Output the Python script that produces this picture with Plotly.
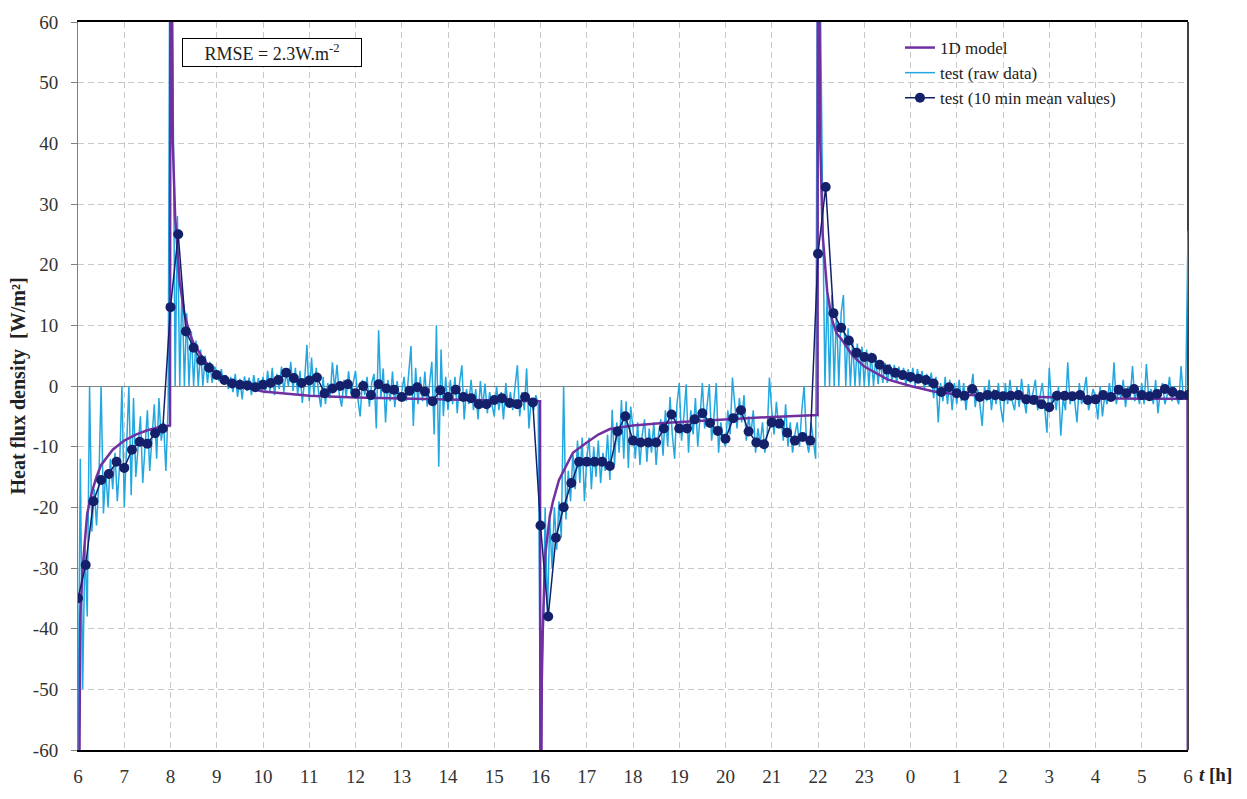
import plotly.graph_objects as go

# ---------------- data ----------------
# hours counted from 6 h on day 1 (6 ... 30 -> 6 h next day)
x_tick_vals = [6, 7, 8, 9, 10, 11, 12, 13, 14, 15, 16, 17, 18, 19, 20, 21, 22, 23, 24, 25, 26, 27, 28, 29, 30]
x_tick_text = ["6", "7", "8", "9", "10", "11", "12", "13", "14", "15", "16", "17", "18", "19", "20",
               "21", "22", "23", "0", "1", "2", "3", "4", "5", "6"]
y_tick_vals = [-60, -50, -40, -30, -20, -10, 0, 10, 20, 30, 40, 50, 60]
y_tick_text = ["-60", "-50", "-40", "-30", "-20", "-10", "0", "10", "20", "30", "40", "50", "60"]

# 1D model
model_t = [6.0, 6.05, 6.1, 6.2, 6.3, 6.4, 6.5, 6.75, 7.0, 7.25, 7.5, 7.75, 7.99,
           8.0, 8.05, 8.1, 8.2, 8.3, 8.4, 8.5, 8.75, 9.0, 9.25, 9.5, 10.0, 10.5, 11.0, 12.0, 13.0, 14.0, 15.0, 15.99,
           16.0, 16.03, 16.1, 16.2, 16.27, 16.4, 16.5, 16.7, 17.0, 17.25, 17.5, 18.0, 18.65, 19.5, 20.1, 21.0, 21.99,
           22.0, 22.05, 22.1, 22.2, 22.3, 22.4, 22.5, 22.75, 23.0, 23.5, 24.0, 24.5, 25.0, 26.0, 27.0, 28.0, 29.0, 29.99, 30.0]
model_v = [-100, -38, -30, -21, -17.5, -15, -13, -10.5, -9, -8, -7.3, -6.8, -6.5,
           100, 40, 28, 17, 12, 9, 7, 4, 2, 0.8, 0, -0.9, -1.3, -1.6, -1.9, -2.1, -2.3, -2.4, -2.5,
           -100, -45, -28, -21.5, -19, -15.5, -14, -11, -9.3, -8, -7.1, -6.5, -6.1, -5.7, -5.5, -5.1, -4.8,
           100, 40, 25, 15.5, 11, 8.7, 7.8, 5, 3.2, 1.1, 0, -0.9, -1.4, -1.7, -1.9, -2, -2.1, -2.1, -100]

# test (raw data), one row per hour (first hour of the row given as key)
raw_rows = [
    (6,  [-60, -12, -50, -26, -38, 0, -24, -17, -23, -16, 0, -21, -14, -20, -12, -17, -11, -19, -13, 0]),
    (7,  [-20, -11, 0, -18, -2, -15, -10, -5, -16, -9, -4, -14, -8, -3, -12, -2, -9, -6, -14, -3]),
    (8,  [110, 48, 0, 28, 0, 17, 0, 12, 0, 9, 0, 7.5, 0, 6, 0, 5, 0.5, 4, 0.5, 3.2]),
    (9,  [2.5, 0.8, 2.8, 0.2, 1.8, -0.5, 1.5, -1, 2, -1.8, 1.2, -2.2, 1.6, -0.8, 1.4, -1.5, 1.8, -0.6, 1.3, -1]),
    (10, [1.5, -1.2, 2.5, -0.8, 3, -1.5, 2, -0.5, 3.2, -1, 2.2, 0, 4, -0.8, 3, -1.5, 2.5, -2.8, 1, 6.8]),
    (11, [-2.5, 4.7, -1.5, 3, -1, -3.5, 1.5, -3, 0.5, -2, 3.9, -0.5, 3.5, -1.5, -3.4, 1, -1.8, 2.4, -1.2, 0.5]),
    (12, [2.5, -2, -5, 1, -1.5, 1.5, -3.4, 0.5, 2, -7, 9.2, -2, 2.9, -6, 1, -2.5, 2.4, -3.5, 0.8, -2]),
    (13, [-1, 1.5, -2.5, 2, 6.6, -6.6, 3, -3, 1.5, -2.5, 2.4, -3.4, 0.5, 4, -8, 10, -13.3, 6, -5, 1.5]),
    (14, [-4, 1, -3, 1.5, -4.5, 0.5, 3.4, -5.5, -0.5, -3, 1, -4, -0.5, -5.5, 0.8, -3.5, 0.4, -4.5, -1, -3]),
    (15, [-5, 0, -4, -1, -5.5, 0.5, -3.5, -1, -4, 0, 3.4, -5, -1, -4, 2.9, -7, -2, -4, -1.5, -3]),
    (16, [-60, -45, -20, -38, -22, -30, -20, -27, -19, -25, 0, -22, -14, -19, -11, -17, -9, -16, -8.5, -19]),
    (17, [-12, -8.5, -17, -10, -15, -9, -16, -11, -14, -8, -15.5, -3.9, -13, -6, -11, -2.3, -12, -2.5, -13.5, -3.4]),
    (18, [-7, -12, -6, -13, -8, -5.5, -12.5, -7, -11, -6, -13, -8, -5.5, -11.5, -4, -10, -1.8, -8, -12, -3]),
    (19, [0.5, -9, -5, 0.3, -11, -4, -8, -2, -10, -5, 0.5, -7, -3, 0.3, -9, -5, 0.5, -11, -6, -9]),
    (20, [-10, -4, -8, 1.4, -3, -7, -2, -6, -1.5, -9, -5, -8, -4, -11, -7, -9.5, -6, -11, -8, 1.4]),
    (21, [-4, -8, -2.6, -7, -5, -9, -3, -10, -6, -11, -8, -6, -10, -4, 0, -9, -11, -6, -9, -12]),
    (22, [100, 60, 30, 0, 16, 0, 15, 0, 12.7, 0, 12, 15, 0, 9.5, 0, 7.6, 0, 7, 0, 6.5]),
    (23, [0, 6, 0, 5.5, 0, 4.7, 0.3, 4.2, 0.5, 3.8, 0.5, 3.6, 0.8, 3.5, 0.5, 3.2, 1, 3, 0.2, 2.8]),
    (24, [0.5, 3, 0, 2.8, 0.5, 2.5, -0.5, 2, 0, 2.2, -2, 1.5, -6, 0.5, -2.5, 1.5, -3, 1, -4, 0.5]),
    (25, [-3, 1, -2.5, 0.5, -4, 0, -1, 2, -3.5, -0.5, -3, -6.6, 0, -2.5, 1, -4, -0.5, -3, 0.5, -3.5]),
    (26, [-6, 0.5, -3, 1, -2.5, -4, 0, -3.5, 1.2, -2, -4.5, 0.3, -3, -1, 1, -4, -2, 0.5, -3.5, -7.7]),
    (27, [3, -3, -1, -4, 0, -8.2, -2, -4, 3.9, -3, -1, -2.5, -6, 0.5, -3, -1, 1.5, -4, -2, -0.5]),
    (28, [-2, -5.5, 0, -5, -1.5, -3, 0.5, -2.5, 3.9, -3, -0.5, -2, 1, -3.5, 0, -2, 3.3, -2.5, -0.5, -3]),
    (29, [0.5, -3, 3.6, -2, -0.5, -3, 1, -4.5, -1, 0.5, -3, -1.5, 1.5, -2.5, 0, -2, -3, 3.3, -2, -1.5]),
    (30, [25.6]),
]

# test (10 min mean values), every 10 min from 6.0 h
mean_v = [
    -35, -29.5, -19, -15.5, -14.5, -12.5, -13.5, -10.5, -9.2, -9.5, -7.8, -7,
    13, 25, 9, 6.3, 4.2, 3, 1.8, 1.0, 0.4, 0.2, 0.1, -0.2,
    0.2, 0.5, 1.0, 2.2, 1.3, 0.5, 0.9, 1.4, -1.2, -0.4, 0.0, 0.3,
    -1.2, 0.0, -1.5, 0.3, -0.4, -0.6, -1.8, -0.8, -0.2, -0.9, -2.5, -0.7,
    -1.8, -0.6, -1.8, -2.0, -3.0, -3.0, -2.3, -2.0, -2.8, -3.0, -1.8, -2.7,
    -23, -38, -25, -20, -16, -12.5, -12.5, -12.5, -12.5, -13.2, -7.5, -5,
    -9, -9.3, -9.3, -9.3, -7, -4.7, -7, -7, -5.5, -4.5, -6.1, -7.4,
    -8.7, -5.3, -4, -7.5, -9.3, -9.6, -6, -6.2, -7.7, -9, -8.4, -9,
    21.8, 32.8, 12, 9.6, 7.5, 5.5, 4.8, 4.6, 3.5, 2.7, 2.2, 1.8,
    1.5, 1.2, 1.0, 0.4, -1.0, -0.2, -1.2, -1.6, -0.5, -1.8, -1.5, -1.5,
    -1.7, -1.6, -1.5, -2.2, -2.3, -3.0, -3.5, -1.6, -1.6, -1.7, -1.5, -2.3,
    -2.2, -1.5, -1.8, -0.6, -1.2, -0.5, -1.5, -1.7, -1.3, -0.5, -1.0, -1.5,
    -1.5,
]
mean_t = [6 + k / 6 for k in range(len(mean_v))]

raw_t, raw_v = [], []
for h, row in raw_rows:
    for i, v in enumerate(row):
        raw_t.append(h + i / len(row))
        raw_v.append(v)

# ---------------- figure ----------------
SERIF = "Liberation Serif, Times New Roman, serif"
fig = go.Figure()
fig.add_trace(go.Scatter(x=raw_t, y=raw_v, mode="lines", name="test (raw data)",
                         line=dict(color="#22a7e0", width=1.5), legendrank=2))
fig.add_trace(go.Scatter(x=model_t, y=model_v, mode="lines", name="1D model",
                         line=dict(color="#7030a0", width=2.5), legendrank=1))
fig.add_trace(go.Scatter(x=mean_t, y=mean_v, mode="lines+markers", name="test (10 min mean values)",
                         line=dict(color="#14206a", width=1.5),
                         marker=dict(size=10, color="#14206a"), legendrank=3))

fig.update_layout(
    width=1247, height=799,
    margin=dict(l=78, r=59, t=16, b=37),
    paper_bgcolor="white", plot_bgcolor="white",
    font=dict(family=SERIF, size=19, color="#333333"),
    showlegend=True,
    legend=dict(x=0.7405, y=0.989, xanchor="left", yanchor="top",
                bgcolor="rgba(0,0,0,0)", font=dict(family=SERIF, size=17, color="#222222"),
                tracegroupgap=0),
    xaxis=dict(range=[6, 30], tickmode="array", tickvals=x_tick_vals, ticktext=x_tick_text,
               showgrid=True, gridcolor="#c8c8c8", gridwidth=1, griddash="6px,4px",
               zeroline=False, showline=True, linecolor="black", linewidth=1.5, mirror=True,
               ticks="", ticklabelstandoff=8, tickfont=dict(family=SERIF, size=19, color="#333333"),
               layer="below traces"),
    yaxis=dict(range=[-60, 60], tickmode="array", tickvals=y_tick_vals, ticktext=y_tick_text,
               showgrid=True, gridcolor="#c8c8c8", gridwidth=1, griddash="6px,4px",
               zeroline=True, zerolinecolor="#808080", zerolinewidth=1,
               showline=True, linecolor="#808080", linewidth=1,
               ticks="outside", ticklen=6, tickcolor="#808080", ticklabelstandoff=9,
               tickfont=dict(family=SERIF, size=19, color="#333333"),
               layer="below traces"),
    shapes=[dict(type="line", xref="paper", yref="paper", x0=1, x1=1, y0=0, y1=1,
                 line=dict(color="black", width=1.5), layer="between")],
    annotations=[
        dict(text="RMSE = 2.3W.m<sup>-2</sup>", xref="paper", yref="paper", x=0.1748, y=0.9578,
             xanchor="center", yanchor="middle", showarrow=False, bordercolor="black",
             borderwidth=1, borderpad=1, bgcolor="white", width=176, height=25,
             font=dict(family=SERIF, size=18, color="#222222")),
        dict(text="<b>Heat flux density\u00a0\u00a0[W/m²]</b>", xref="paper", yref="paper",
             x=-0.0532, y=0.5007, xanchor="center", yanchor="middle", textangle=-90,
             showarrow=False, font=dict(family=SERIF, size=20, color="#222222")),
        dict(text="<b><i>t</i> [h]</b>", xref="paper", yref="paper", x=1.0081, y=-0.0335,
             xanchor="left", yanchor="middle", showarrow=False,
             font=dict(family=SERIF, size=19, color="#222222")),
    ],
)

fig.write_html("out.html")
